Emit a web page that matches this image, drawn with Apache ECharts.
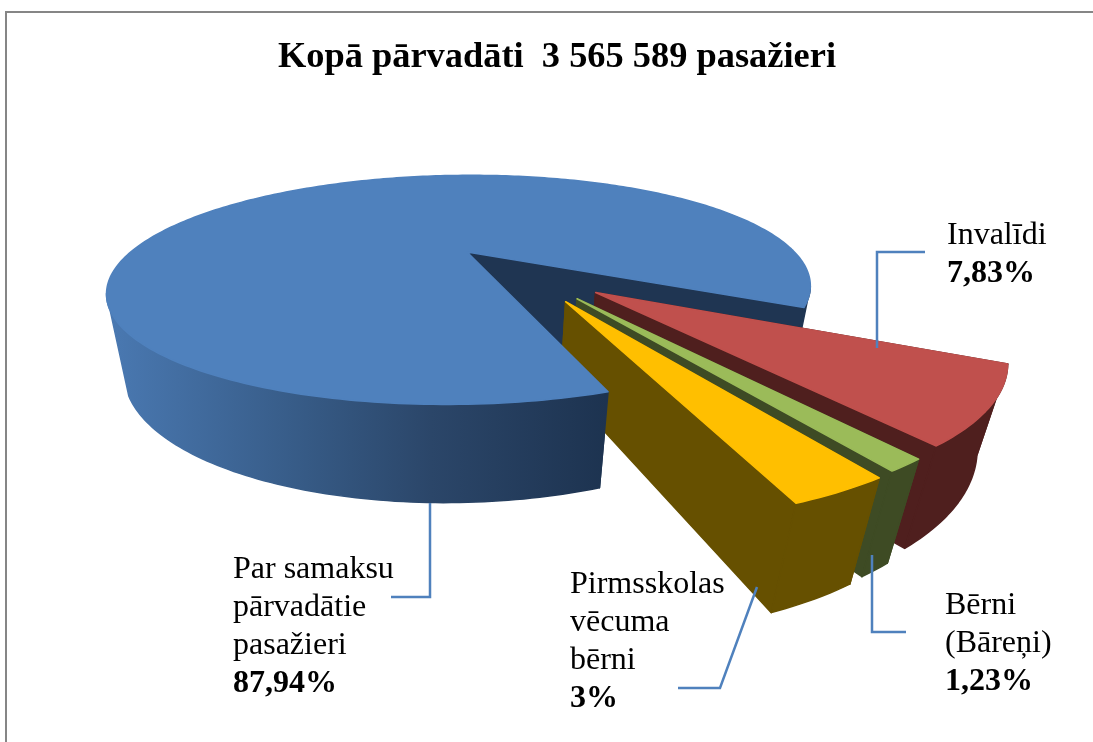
<!DOCTYPE html>
<html>
<head>
<meta charset="utf-8">
<style>
  html, body { margin: 0; padding: 0; background: #fff; overflow: hidden; }
  #chart { width: 1093px; height: 742px; }
</style>
<script src="https://cdn.jsdelivr.net/npm/echarts@6/dist/echarts.min.js"></script>
</head>
<body>
<div id="chart"></div>
<script>
// data
const titleText = 'Kopā pārvadāti  3 565 589 pasažieri';
const categories = [
  ['Invalīdi'],
  ['Bērni', '(Bāreņi)'],
  ['Pirmsskolas', 'vēcuma', 'bērni'],
  ['Par samaksu', 'pārvadātie', 'pasažieri']
];
const shares = [7.83, 1.23, 3, 87.94];
const shareLabels = ['7,83%', '1,23%', '3%', '87,94%'];

// styles
const topColors = ['#C0504D', '#9BBB59', '#FFBF00', '#4F81BD'];
const sideColors = ['#4F1F1E', '#3E4B24', '#665000', '#1F3552'];
const blueWallStops = [
  { offset: 0, color: '#4A79B2' },
  { offset: 0.4, color: '#365A85' },
  { offset: 0.65, color: '#2B4669' },
  { offset: 1, color: '#1D3350' }
];

// how far each slice is pulled out and in which direction, the last one stays
const explode = [0.5, 0.5, 0.5, 0];
const explodeDir = [46.5, 54.7, 59.1, 0];
const startAngle = 29.5;

// camera used to put the pie flat on the page
const cam = { cx: 467, cy: 252, a: 332, b: 102, f: -3, k: 0.33, j: -0.023, h: 77, q: 0.045 };
// the lower rim's outline point sits this many degrees before the upper one
const outlineLag = 8;

function project(x, y, z) {
  const w = 1 - cam.k * y - cam.j * x + cam.q * z;
  return [
    cam.cx + cam.a * x / w,
    cam.cy + (cam.b * y + cam.f * x + cam.h * z) / w
  ];
}

// leader lines and text blocks, in page pixels
const leaders = [
  [[877, 348], [877, 252], [925, 252]],
  [[872, 555], [872, 632], [906, 632]],
  [[757, 587], [720, 688], [678, 688]],
  [[430, 503], [430, 597], [391, 597]]
];
const labelPos = [[947, 217], [945, 587], [570, 566], [233, 551]];

function rad(d) { return d * Math.PI / 180; }

function sliceGeometry(i) {
  const total = shares.reduce((s, v) => s + v, 0);
  let from = startAngle;
  for (let n = 0; n < i; n++) from += shares[n] / total * 360;
  const to = from + shares[i] / total * 360;
  const dir = rad(explodeDir[i]);
  return { from, to, ox: Math.cos(dir) * explode[i], oy: Math.sin(dir) * explode[i] };
}

function anglesBetween(from, to) {
  const list = [];
  for (let d = from; d < to; d += 1) list.push(rad(d));
  list.push(rad(to));
  return list;
}

function poly(points, fill, z2) {
  return { type: 'polygon', z2, shape: { points }, style: { fill, stroke: fill, lineWidth: 1.5, lineJoin: 'round' } };
}

// angle on the rim where the pie's outline is furthest left or right
function outlineAngle(from, to, sign) {
  let best = from;
  for (let d = from; d <= to; d += 0.5) {
    if (sign * project(Math.cos(rad(d)), Math.sin(rad(d)), 0)[0] > sign * project(Math.cos(rad(best)), Math.sin(rad(best)), 0)[0]) best = d;
  }
  return best;
}

function renderSlice(params) {
  const i = params.dataIndex;
  const g = sliceGeometry(i);
  const isMain = explode[i] === 0;
  const rim = (t, z) => project(g.ox + Math.cos(t), g.oy + Math.sin(t), z);
  const band = (upper, lower) => upper.map(t => rim(t, 0)).concat(lower.slice().reverse().map(t => rim(t, 1)));
  const apexTop = project(g.ox, g.oy, 0);
  const apexBottom = project(g.ox, g.oy, 1);
  const arc = anglesBetween(g.from, g.to);
  const first = arc[0];
  const last = arc[arc.length - 1];

  // order on the page: the main slice's cuts and right rim stay behind the
  // pulled-out slices, its front rim and top go over them
  const base = isMain ? 0 : (i + 1) * 10;
  const rimZ = isMain ? 50 : base + 2;
  const children = [
    poly([apexTop, rim(first, 0), rim(first, 1), apexBottom], sideColors[i], base),
    poly([apexTop, rim(last, 0), rim(last, 1), apexBottom], sideColors[i], base + 1)
  ];
  if (isMain) {
    const wall = new echarts.graphic.LinearGradient(107, 0, 606, 0, blueWallStops, true);
    const left = outlineAngle(g.from, 270, -1);
    const right = outlineAngle(270, g.to, 1);
    children.push(poly(band(anglesBetween(g.from, left), anglesBetween(g.from, left - outlineLag)), wall, rimZ));
    children.push(poly(band(anglesBetween(right, g.to), anglesBetween(right, g.to)), sideColors[i], 2));
  } else {
    children.push(poly(band(arc, arc), sideColors[i], rimZ));
  }
  children.push(poly([apexTop].concat(arc.map(t => rim(t, 0))), topColors[i], rimZ + 1));
  children.push({
    type: 'polyline', z2: 60,
    shape: { points: leaders[i] },
    style: { fill: null, stroke: '#4F81BD', lineWidth: 2.5 }
  });
  children.push({
    type: 'text', z2: 61,
    x: labelPos[i][0], y: labelPos[i][1],
    style: {
      text: categories[i].map(s => '{r|' + s + '}').concat('{b|' + shareLabels[i] + '}').join('\n'),
      rich: {
        r: { fontFamily: 'Liberation Serif', fontSize: 32, lineHeight: 38, fill: '#000' },
        b: { fontFamily: 'Liberation Serif', fontSize: 32, lineHeight: 38, fontWeight: 'bold', fill: '#000' }
      }
    }
  });
  return { type: 'group', children };
}

const chart = echarts.init(document.getElementById('chart'), null, { renderer: 'canvas' });
chart.setOption({
  animation: false,
  backgroundColor: '#fff',
  title: {
    text: titleText,
    left: 273,
    top: 35,
    textStyle: { fontFamily: 'Liberation Serif', fontSize: 36.4, fontWeight: 'bold', color: '#000' }
  },
  graphic: [{
    type: 'rect',
    shape: { x: 6, y: 12, width: 1200, height: 900 },
    style: { fill: null, stroke: '#868686', lineWidth: 2 },
    silent: true
  }],
  series: [{
    type: 'custom',
    coordinateSystem: 'none',
    renderItem: renderSlice,
    data: shares
  }]
});
</script>
</body>
</html>
